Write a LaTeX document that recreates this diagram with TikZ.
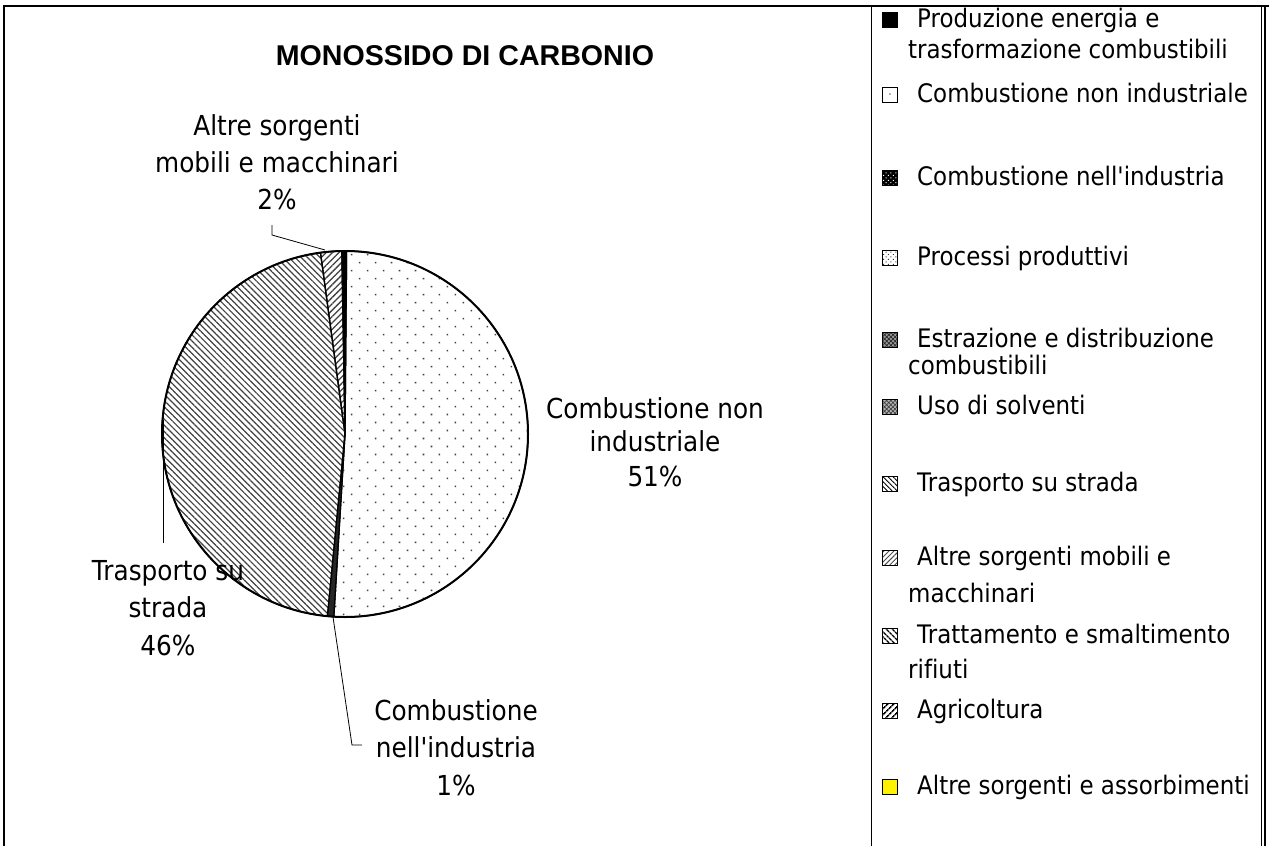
\documentclass[tikz,border=0pt]{standalone}
\usepackage{fontspec}
\setmainfont{DejaVu Sans}[FakeStretch=0.9, Ligatures={TeXOff,NoCommon}]
\newfontfamily\titlefont{Liberation Sans}
\usetikzlibrary{patterns,patterns.meta}
\tikzset{
  frameline/.style={line width=2pt, black},
  legline/.style={line width=1pt, black},
  legtext/.style={anchor=base west, inner sep=0pt, font=\fontsize{25.5}{30}\selectfont},
  pielabel/.style={anchor=base, inner sep=0pt, font=\fontsize{27.5}{32}\selectfont},
  leader/.style={line width=0.8pt, black},
  slice/.style={line width=1.3pt, black, line join=round},
  legmark/.style={draw=black, line width=0.9pt},
}
\newcommand{\wedgepath}[2]{(O) -- ++(#1:183) arc[start angle=#1, end angle=#2, radius=183] -- cycle}
\newcommand{\legsq}[1]{(882,#1-15) rectangle (897,#1)}
\begin{document}
\begin{tikzpicture}[x=1pt,y=-1pt]
\useasboundingbox (0,0) rectangle (1269,846);
% frame
\draw[frameline] (4,846) -- (4,6) -- (1269,6);
\draw[frameline] (1265,6) -- (1265,846);
\draw[legline] (871,6) -- (871,846);
\draw[legline] (1261,6) -- (1261,846);
% title
\node[anchor=base, inner sep=0pt, font=\titlefont\bfseries\fontsize{28.6}{32}\selectfont] (title) at (465,65) {MONOSSIDO DI CARBONIO};
% pie
\coordinate (O) at (345,434);
% altre sorgenti mobili
\fill[pattern={Lines[angle=45,distance=4.5pt,line width=1.3pt]}, pattern color=black!75] \wedgepath{262.3}{269};
\draw[slice] \wedgepath{262.3}{269};
% trasporto su strada
\fill[pattern={Lines[angle=-45,distance=4.4pt,line width=1.2pt]}, pattern color=black!75] \wedgepath{95.5}{262.3};
\draw[slice] \wedgepath{95.5}{262.3};
% combustione non industriale
\fill[pattern={Dots[radius=1.1pt,distance=11.3pt,angle=45]}, pattern color=black!75] \wedgepath{-89.5}{93.5};
\draw[slice] \wedgepath{-89.5}{93.5};
% combustione nell'industria
\fill[black!85] \wedgepath{93.5}{95.5};
\draw[slice] \wedgepath{93.5}{95.5};
% produzione energia
\fill[black] \wedgepath{269}{270.5};
\draw[slice] \wedgepath{269}{270.5};
% outline
\draw[line width=2pt] (O) circle[radius=183];
% pie labels
\node[pielabel] (l1a) at (277,135) {Altre sorgenti};
\node[pielabel] (l1b) at (277,172) {mobili e macchinari};
\node[pielabel] (l1c) at (277,209) {2\%};
\node[pielabel] (l2a) at (655,418) {Combustione non};
\node[pielabel] (l2b) at (655,451) {industriale};
\node[pielabel] (l2c) at (655,486) {51\%};
\node[pielabel] (l3a) at (168,580) {Trasporto su};
\node[pielabel] (l3b) at (168,617) {strada};
\node[pielabel] (l3c) at (168,655) {46\%};
\node[pielabel] (l4a) at (456,720) {Combustione};
\node[pielabel] (l4b) at (456,757) {nell'industria};
\node[pielabel] (l4c) at (456,795) {1\%};
% leader lines
\coordinate (e1) at (325,250);
\coordinate (k1) at (272,225);
\draw[leader] (e1) -- (272,235) -- (k1);
\coordinate (e3) at (163,420);
\coordinate (k3) at (163,543);
\draw[leader] (e3) -- (k3);
\coordinate (e4) at (333,617);
\coordinate (k4) at (362,745);
\draw[leader] (e4) -- (352,745) -- (k4);
% legend markers
\filldraw[legmark, fill=black] \legsq{27};
\draw[legmark] \legsq{102};
\fill[black!60] (890,94) circle[radius=0.9];
\fill[black] \legsq{185};
\fill[pattern={Dots[radius=0.7pt,distance=3.5pt,angle=45]}, pattern color=white] \legsq{185};
\draw[legmark] \legsq{185};
\fill[pattern={Dots[radius=0.7pt,distance=3.5pt,angle=45]}, pattern color=black!80] \legsq{265};
\draw[legmark] \legsq{265};
\fill[black!40] \legsq{347};
\fill[pattern={Hatch[distance=3pt,angle=45,line width=0.8pt]}, pattern color=black!85] \legsq{347};
\draw[legmark] \legsq{347};
\fill[black!30] \legsq{414};
\fill[pattern={Hatch[distance=3pt,angle=45,line width=0.7pt]}, pattern color=black!75] \legsq{414};
\draw[legmark] \legsq{414};
\fill[pattern={Lines[angle=-45,distance=3.5pt,line width=0.9pt]}, pattern color=black] \legsq{491};
\draw[legmark] \legsq{491};
\fill[pattern={Lines[angle=45,distance=3.5pt,line width=0.9pt]}, pattern color=black!70] \legsq{565};
\draw[legmark] \legsq{565};
\fill[pattern={Lines[angle=-45,distance=4pt,line width=1.6pt]}, pattern color=black] \legsq{643};
\draw[legmark] \legsq{643};
\fill[pattern={Lines[angle=45,distance=4pt,line width=1.7pt]}, pattern color=black] \legsq{718};
\draw[legmark] \legsq{718};
\filldraw[legmark, fill=yellow] \legsq{794};
% legend texts
\node[legtext] (t1a) at (917,27) {Produzione energia e};
\node[legtext] (t1b) at (908,58) {trasformazione combustibili};
\node[legtext] (t2) at (917,102) {Combustione non industriale};
\node[legtext] (t3) at (917,185) {Combustione nell'industria};
\node[legtext] (t4) at (917,265) {Processi produttivi};
\node[legtext] (t5a) at (917,347) {Estrazione e distribuzione};
\node[legtext] (t5b) at (908,374) {combustibili};
\node[legtext] (t6) at (917,414) {Uso di solventi};
\node[legtext] (t7) at (917,491) {Trasporto su strada};
\node[legtext] (t8a) at (917,565) {Altre sorgenti mobili e};
\node[legtext] (t8b) at (908,602) {macchinari};
\node[legtext] (t9a) at (917,643) {Trattamento e smaltimento};
\node[legtext] (t9b) at (908,678) {rifiuti};
\node[legtext] (t10) at (917,718) {Agricoltura};
\node[legtext] (t11) at (917,794) {Altre sorgenti e assorbimenti};
\end{tikzpicture}
\end{document}
